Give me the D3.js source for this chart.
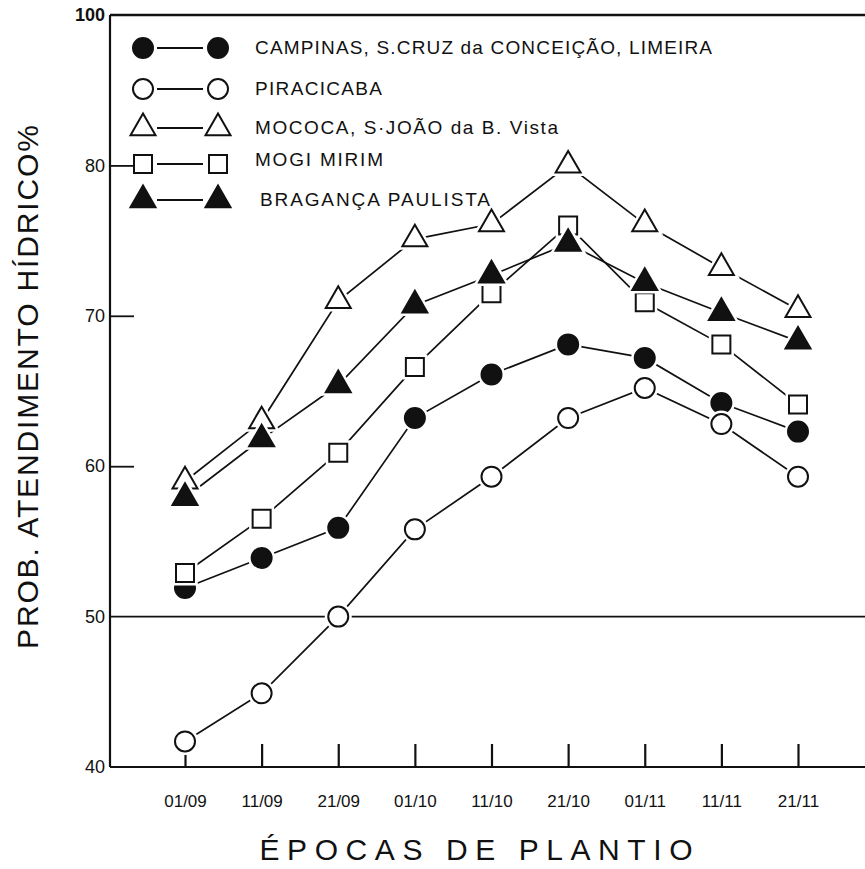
<!DOCTYPE html>
<html>
<head>
<meta charset="utf-8">
<script src="https://cdn.jsdelivr.net/npm/d3@7"></script>
<style>
    body { margin: 0; background: #fff; }
    text { font-family: "Liberation Sans", Arial, sans-serif; fill: #111; }
</style>
</head>
<body>
<div id="Graph"></div>
<script>
// planting dates (x axis)
var dates = ["01/09", "11/09", "21/09", "01/10", "11/10", "21/10", "01/11", "11/11", "21/11"];

// y ticks, the top line is labelled 100 in the original figure
var yTickValues = [40, 50, 60, 70, 80, 90];
var yTickLabels = ["40", "50", "60", "70", "80", "100"];

// series values
var campinas = [51.9, 53.9, 55.9, 63.2, 66.1, 68.1, 67.2, 64.2, 62.3];
var piracicaba = [41.7, 44.9, 50.0, 55.8, 59.3, 63.2, 65.2, 62.8, 59.3];
var mococa = [59.0, 63.0, 71.0, 75.1, 76.1, 80.0, 76.1, 73.2, 70.4];
var mogiMirim = [52.9, 56.5, 60.9, 66.6, 71.5, 76.0, 70.9, 68.1, 64.1];
var braganca = [57.9, 61.8, 65.4, 70.7, 72.7, 74.8, 72.2, 70.2, 68.3];

var seriesNames = [
    "CAMPINAS, S.CRUZ da CONCEIÇÃO, LIMEIRA",
    "PIRACICABA",
    "MOCOCA, S·JOÃO da B. Vista",
    "MOGI MIRIM",
    "BRAGANÇA PAULISTA"
];
var seriesValues = [campinas, piracicaba, mococa, mogiMirim, braganca];
var seriesShapes = ["circle", "circle", "triangle", "square", "triangle"];
var seriesFilled = [true, false, false, false, true];

var width = 865, height = 869;
var ink = "#111";

var svg = d3.select("#Graph").append("svg")
    .attr("width", width)
    .attr("height", height);

svg.append("rect").attr("width", width).attr("height", height).attr("fill", "#fff");

var x = d3.scalePoint().domain(dates).range([185, 798]);
var y = d3.scaleLinear().domain([40, 90]).range([767, 15]);
var axisX = 110;

function symbolPath(shape) {
    if (shape === "circle") return d3.symbol().type(d3.symbolCircle).size(Math.PI * 100)();
    if (shape === "square") return d3.symbol().type(d3.symbolSquare).size(18 * 18)();
    return d3.symbol().type(d3.symbolTriangle).size(Math.sqrt(3) / 4 * 25 * 25)();
}

// frame: left axis, top line, 50 line, bottom axis
svg.append("line").attr("x1", axisX).attr("x2", axisX).attr("y1", y(90)).attr("y2", y(40))
    .attr("stroke", ink).attr("stroke-width", 2.2);
svg.append("line").attr("x1", axisX).attr("x2", width).attr("y1", y(90)).attr("y2", y(90))
    .attr("stroke", ink).attr("stroke-width", 2.4);
svg.append("line").attr("x1", axisX).attr("x2", width).attr("y1", y(50)).attr("y2", y(50))
    .attr("stroke", ink).attr("stroke-width", 1.8);
svg.append("line").attr("x1", axisX).attr("x2", width).attr("y1", y(40)).attr("y2", y(40))
    .attr("stroke", ink).attr("stroke-width", 2);

// y axis, inward ticks
var yAxis = svg.append("g")
    .attr("transform", "translate(" + axisX + ",0)")
    .call(d3.axisLeft(y)
        .tickValues(yTickValues)
        .tickSize(-24)
        .tickPadding(5)
        .tickFormat(function (d, i) { return yTickLabels[i]; }));
yAxis.select(".domain").remove();
yAxis.selectAll(".tick line")
    .attr("stroke", ink).attr("stroke-width", 1.8)
    .style("display", function (d) { return (d === 40 || d === 50 || d === 90) ? "none" : null; });
yAxis.selectAll(".tick text")
    .style("font-size", "18px")
    .style("font-family", "Liberation Sans, Arial, sans-serif")
    .style("font-weight", function (d) { return d === 90 ? "bold" : null; })
    .attr("fill", ink);

// x axis, ticks pointing up
var xAxis = svg.append("g")
    .attr("transform", "translate(0," + y(40) + ")")
    .call(d3.axisBottom(x).tickSizeInner(-23).tickSizeOuter(0).tickPadding(30));
xAxis.select(".domain").remove();
xAxis.selectAll(".tick line").attr("stroke", ink).attr("stroke-width", 2.2);
xAxis.selectAll(".tick text")
    .style("font-size", "17px")
    .style("font-family", "Liberation Sans, Arial, sans-serif")
    .attr("fill", ink)
    .attr("dy", 0)
    .attr("y", 40);

// axis titles
svg.append("text")
    .attr("x", 476).attr("y", 860)
    .attr("text-anchor", "middle")
    .attr("textLength", 433).attr("lengthAdjust", "spacing")
    .style("font-size", "30px")
    .text("ÉPOCAS DE PLANTIO");

svg.append("text")
    .attr("transform", "translate(38,387) rotate(-90)")
    .attr("text-anchor", "middle")
    .attr("textLength", 524).attr("lengthAdjust", "spacing")
    .style("font-size", "30px")
    .text("PROB. ATENDIMENTO HÍDRICO%");

// series lines
var line = d3.line()
    .x(function (d, i) { return x(dates[i]); })
    .y(function (d) { return y(d); });

svg.selectAll(".series")
    .data(seriesValues)
    .enter().append("path")
    .attr("class", "series")
    .attr("d", line)
    .attr("fill", "none")
    .attr("stroke", ink)
    .attr("stroke-width", 1.7);

// markers with a white halo so the lines stop short of them
seriesValues.forEach(function (vals, s) {
    var g = svg.append("g");
    var pts = g.selectAll("g")
        .data(vals)
        .enter().append("g")
        .attr("transform", function (d, i) { return "translate(" + x(dates[i]) + "," + y(d) + ")"; });
    pts.append("path")
        .attr("d", symbolPath(seriesShapes[s]))
        .attr("fill", "#fff")
        .attr("stroke", "#fff")
        .attr("stroke-width", 7);
    pts.append("path")
        .attr("d", symbolPath(seriesShapes[s]))
        .attr("fill", seriesFilled[s] ? ink : "#fff")
        .attr("stroke", ink)
        .attr("stroke-width", 2);
});

// legend
var legendRowY = [48, 89, 128, 164, 200];
var legendTextLen = [457, 127, 303, 128, 230];
var legend = svg.selectAll(".legend")
    .data(seriesNames)
    .enter().append("g")
    .attr("class", "legend")
    .attr("transform", function (d, i) { return "translate(0," + legendRowY[i] + ")"; });

legend.append("line")
    .attr("x1", 157).attr("x2", 203)
    .attr("stroke", ink).attr("stroke-width", 1.8);

[143, 218].forEach(function (cx) {
    legend.append("path")
        .attr("transform", "translate(" + cx + ",0)")
        .attr("d", function (d, i) { return symbolPath(seriesShapes[i]); })
        .attr("fill", function (d, i) { return seriesFilled[i] ? ink : "#fff"; })
        .attr("stroke", ink)
        .attr("stroke-width", 2);
});

legend.append("text")
    .attr("x", function (d, i) { return i === 4 ? 260 : 255; })
    .attr("y", function (d, i) { return i === 3 ? 2 : 6; })
    .attr("textLength", function (d, i) { return legendTextLen[i]; })
    .attr("lengthAdjust", "spacing")
    .style("font-size", "19px")
    .text(function (d) { return d; });
</script>
</body>
</html>
